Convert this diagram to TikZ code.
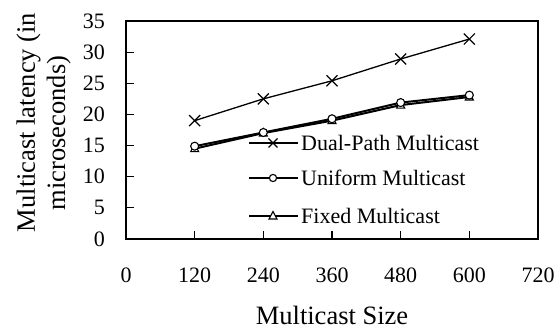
\documentclass[tikz,border=0pt]{standalone}
\usepackage{fontspec}
\setmainfont{Liberation Serif}
\begin{document}
\begin{tikzpicture}[x=1pt,y=1pt,
  ticklbl/.style={font=\fontsize{22}{24}\selectfont, inner sep=0pt},
  axtitle/.style={font=\fontsize{26.5}{30}\selectfont, inner sep=0pt},
  leglbl/.style={font=\fontsize{22}{24}\selectfont, inner sep=0pt, anchor=west},
  series/.style={line width=1.3pt, line join=round},
  xmark/.style={line width=1.2pt},
  omark/.style={line width=1.1pt, fill=white},
  tmark/.style={line width=1.1pt, fill=white},
]
\useasboundingbox (0,0) rectangle (560,331);
% frame
\draw[line width=1.4pt] (126,92) rectangle (538,310);
% y ticks and labels
\foreach \v [count=\i from 0] in {0,5,...,35}{
  \pgfmathsetmacro{\yy}{92+\v/35*218}
  \ifnum\i>0 \ifnum\i<7 \draw[line width=1.2pt] (126,\yy) -- (134,\yy); \fi\fi
  \node[ticklbl, anchor=east] (yl\i) at (105,\yy) {\v};
}
% x ticks and labels
\foreach \v [count=\i from 0] in {0,120,...,720}{
  \pgfmathsetmacro{\xx}{126+\v/720*412}
  \ifnum\i>0 \ifnum\i<6 \draw[line width=1.2pt] (\xx,92) -- (\xx,100); \fi\fi
  \node[ticklbl] (xl\i) at (\xx,56) {\v};
}
% data
\begin{scope}[shift={(126,92)}, x=0.572222pt, y=6.228571pt]
  \foreach \a/\b [count=\i] in {120/14.5,240/17.0,360/19.0,480/21.5,600/22.8}
    \coordinate (f\i) at (\a,\b);
  \foreach \a/\b [count=\i] in {120/14.9,240/17.1,360/19.3,480/21.9,600/23.1}
    \coordinate (u\i) at (\a,\b);
  \foreach \a/\b [count=\i] in {120/19.0,240/22.5,360/25.4,480/28.9,600/32.1}
    \coordinate (d\i) at (\a,\b);
\end{scope}
\draw[series, line width=2pt] (f1) -- (f2) -- (f3) -- (f4) -- (f5);
\draw[series, line width=2pt] (u1) -- (u2) -- (u3) -- (u4) -- (u5);
\draw[series] (d1) -- (d2) -- (d3) -- (d4) -- (d5);
\foreach \i in {1,...,5}{
  \draw[tmark] ([shift={(0,4.5)}]f\i) -- ([shift={(-4,-3)}]f\i) -- ([shift={(4,-3)}]f\i) -- cycle;
  \draw[omark] (u\i) circle (4);
  \draw[xmark] ([shift={(-5.5,-5.5)}]d\i) -- ([shift={(5.5,5.5)}]d\i) ([shift={(-5.5,5.5)}]d\i) -- ([shift={(5.5,-5.5)}]d\i);
}
% legend
\coordinate (la1) at (249,188); \coordinate (lb1) at (298,188); \coordinate (lm1) at (273,188);
\coordinate (la2) at (249,153); \coordinate (lb2) at (298,153); \coordinate (lm2) at (273,153);
\coordinate (la3) at (249,115); \coordinate (lb3) at (298,115); \coordinate (lm3) at (273,115);
\draw[series] (la1) -- (lb1);
\draw[xmark] ([shift={(-4.5,-4.5)}]lm1) -- ([shift={(4.5,4.5)}]lm1) ([shift={(-4.5,4.5)}]lm1) -- ([shift={(4.5,-4.5)}]lm1);
\draw[series] (la2) -- (lb2);
\draw[omark] (lm2) circle (3.6);
\draw[series] (la3) -- (lb3);
\draw[tmark] ([shift={(0,4.5)}]lm3) -- ([shift={(-4,-3)}]lm3) -- ([shift={(4,-3)}]lm3) -- cycle;
\node[leglbl] (lt1) at (301,188) {Dual-Path Multicast};
\node[leglbl] (lt2) at (301,153) {Uniform Multicast};
\node[leglbl] (lt3) at (301,115) {Fixed Multicast};
% axis titles
\node[axtitle, anchor=base] (xt) at (332,6) {Multicast Size};
\node[axtitle, rotate=90, anchor=base] (yt1) at (35,208.5) {Multicast latency (in};
\node[axtitle, rotate=90, anchor=base] (yt2) at (65,198) {microseconds)};
\end{tikzpicture}
\end{document}
